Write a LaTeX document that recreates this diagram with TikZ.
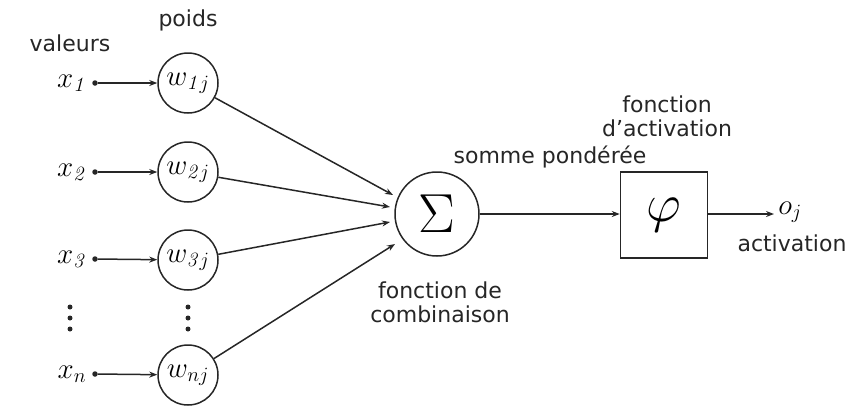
\RequirePackage{fix-cm}
\documentclass[tikz,border=0pt]{standalone}
\usepackage[no-math]{fontspec}
\setmainfont{DejaVu Sans}
\usetikzlibrary{arrows.meta}
\begin{document}
\begin{tikzpicture}[x=1pt,y=-1pt,
  ink/.style={draw=black!85, line width=1.5pt},
  arr/.style={ink, -{Stealth[length=8pt,width=6pt]}},
  wcirc/.style={ink, circle, minimum size=60pt, inner sep=0pt, font=\fontsize{29}{31}\selectfont},
  inlab/.style={inner sep=0pt, font=\fontsize{29}{31}\selectfont},
  lab/.style={inner sep=0pt, text=black!85, align=center, font=\fontsize{22}{24}\selectfont},
  src/.style={circle, fill=black!85, minimum size=5.5pt, inner sep=0pt},
  vdot/.style={circle, fill=black!85, minimum size=5pt, inner sep=0pt}]
\useasboundingbox (0,0) rectangle (861,408);

% captions
\node[lab] (valeurs) at (70,43) {valeurs};
\node[lab] (poids) at (188,20) {poids};
\node[lab] (somme) at (550,157) {somme pondérée};
\node[lab] (factiv) at (667,116) {fonction\\d'activation};
\node[lab] (combi) at (440,302) {fonction de\\combinaison};
\node[lab] (activ) at (792,243) {activation};

% inputs
\node[inlab] (x1) at (72,83) {$x_{\mathit{1}}$};
\node[inlab] (x2) at (72,172) {$x_{\mathit{2}}$};
\node[inlab] (x3) at (72,259) {$x_{\mathit{3}}$};
\node[inlab] (xn) at (72,374) {$x_{n}$};
\node[src] (s1) at (95,83) {};
\node[src] (s2) at (95,172) {};
\node[src] (s3) at (95,259) {};
\node[src] (sn) at (95,374) {};

% weights
\node[wcirc] (w1) at (188,83) {$w_{\mathit{1}j}$};
\node[wcirc] (w2) at (188,172) {$w_{\mathit{2}j}$};
\node[wcirc] (w3) at (188,260) {$w_{\mathit{3}j}$};
\node[wcirc] (wn) at (188,375) {$w_{nj}$};

% vertical ellipses
\foreach \yy [count=\i] in {307,318,329} {
  \node[vdot] (lx\i) at (70,\yy) {};
  \node[vdot] (lw\i) at (188,\yy) {};
}

% summation and activation
\node[ink, circle, minimum size=84pt, inner sep=0pt, font=\fontsize{55}{57}\selectfont] (sum) at (437,214) {$\Sigma$};
\node[ink, rectangle, minimum width=87pt, minimum height=86pt, inner sep=0pt, font=\fontsize{54}{56}\selectfont] (phi) at (664,215) {$\varphi$};
\node[inlab] (oj) at (790,212) {$o_j$};

% arrow end points at the summation node
\coordinate (t1) at (393,195);
\coordinate (t2) at (390,207);
\coordinate (t3) at (390,222);
\coordinate (t4) at (395,244);
\coordinate (tout) at (774,214);

% connectors
\draw[arr] (s1) -- (w1);
\draw[arr] (s2) -- (w2);
\draw[arr] (s3) -- (w3);
\draw[arr] (sn) -- (wn);
\draw[arr] (w1) -- (t1);
\draw[arr] (w2) -- (t2);
\draw[arr] (w3) -- (t3);
\draw[arr] (wn) -- (t4);
\draw[arr] (sum.east) -- (phi.west |- sum.east);
\draw[arr] (phi.east |- sum.east) -- (tout);
\end{tikzpicture}
\end{document}
